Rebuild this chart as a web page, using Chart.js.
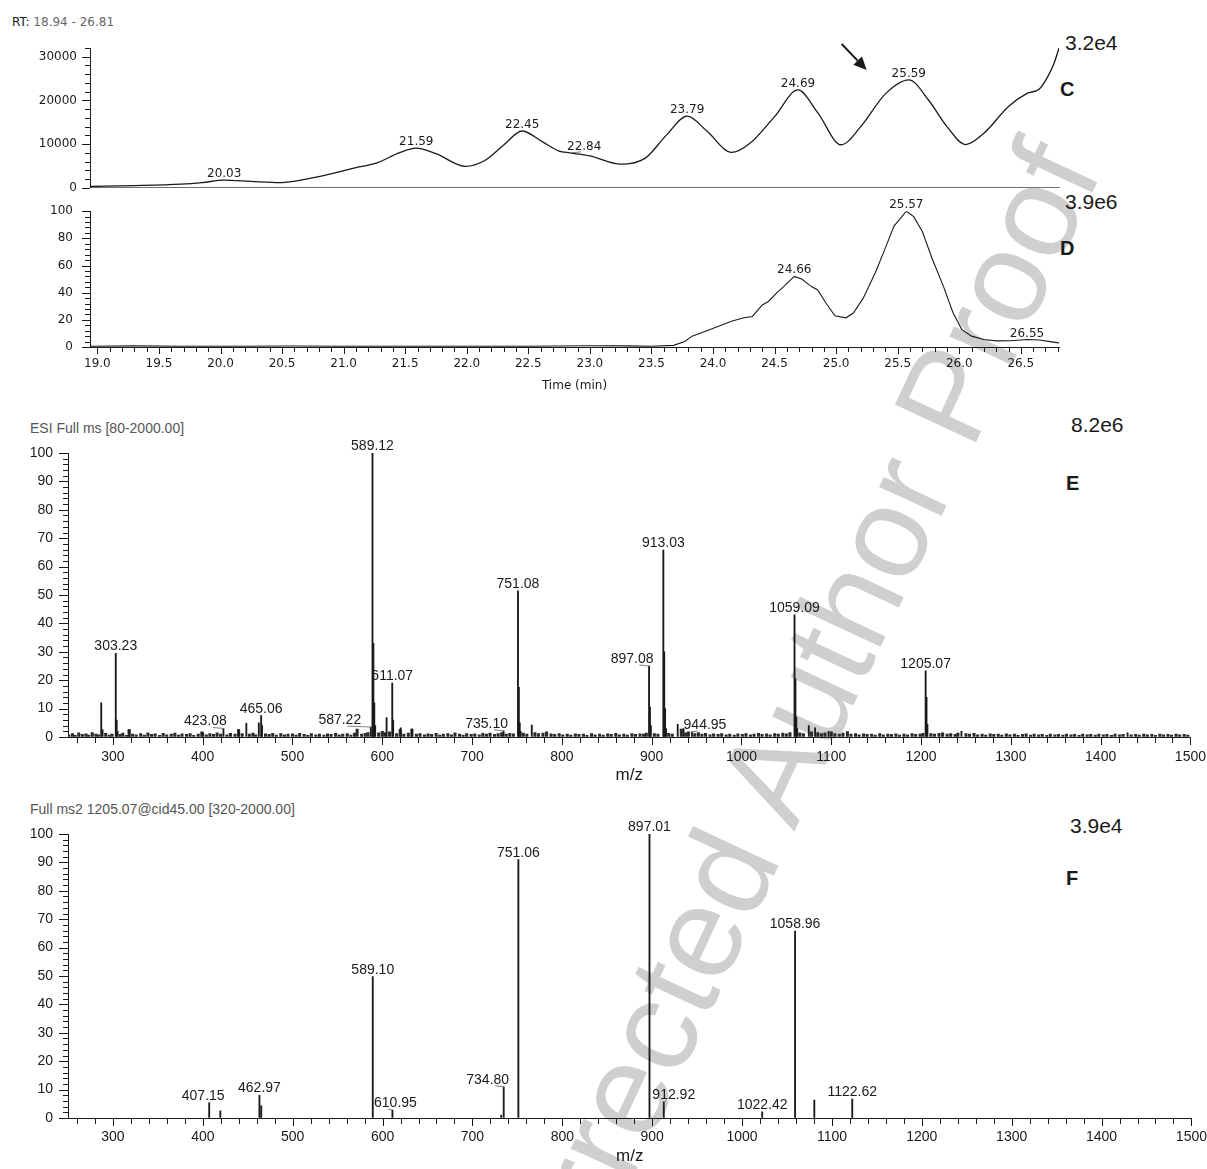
<!DOCTYPE html>
<html>
<head>
<meta charset="utf-8">
<script src="https://cdn.jsdelivr.net/npm/chart.js@4.4.0/dist/chart.umd.min.js"></script>
<style>
  body { margin:0; width:1207px; height:1169px; overflow:hidden; background:#fff; position:relative; color:#1a1a1a; }
  canvas { position:absolute; left:0; }
  .txt { position:absolute; white-space:nowrap; line-height:1; font-family:"Liberation Sans", Arial, sans-serif; }
  .big { font-size:21px; }
  .tag { font-size:20px; font-weight:bold; }
  .hdr { font-size:14px; color:#555; }
  #wm { position:absolute; left:752px; top:816px; transform:translate(-50%,-50%) rotate(-65deg);
        font-family:"Liberation Sans", Arial, sans-serif; font-size:130px; line-height:1; color:#cfcfcf; white-space:nowrap; }
</style>
</head>
<body>
<div id="wm">Uncorrected Author Proof</div>

<div class="txt" style="left:12px;top:16px;font-family:'DejaVu Sans';font-size:12px"><span>RT:</span> <span style="color:#666">18.94 - 26.81</span></div>
<div class="txt big" style="left:1065px;top:32px">3.2e4</div>
<div class="txt tag" style="left:1060px;top:79px">C</div>
<div class="txt big" style="left:1065px;top:191px">3.9e6</div>
<div class="txt tag" style="left:1060px;top:238px">D</div>
<div class="txt hdr" style="left:30px;top:421px">ESI Full ms [80-2000.00]</div>
<div class="txt big" style="left:1071px;top:414px">8.2e6</div>
<div class="txt tag" style="left:1066px;top:473px">E</div>
<div class="txt hdr" style="left:30px;top:802px">Full ms2 1205.07@cid45.00 [320-2000.00]</div>
<div class="txt big" style="left:1070px;top:815px">3.9e4</div>
<div class="txt tag" style="left:1066px;top:868px">F</div>

<canvas id="chartC" width="1207" height="200" style="top:0px"></canvas>
<canvas id="chartD" width="1207" height="200" style="top:195px"></canvas>
<canvas id="chartE" width="1210" height="370" style="top:420px"></canvas>
<canvas id="chartF" width="1210" height="369" style="top:800px"></canvas>

<script>
// ---- data ----
// C: TIC trace (intensity counts)
const timeC = [18.94, 19.3, 19.68, 19.85, 20.03, 20.25, 20.49, 20.7, 20.92, 21.1,
  21.27, 21.45, 21.59, 21.75, 21.99, 22.15, 22.3, 22.45, 22.6, 22.75,
  22.84, 23.0, 23.25, 23.45, 23.62, 23.79, 23.95, 24.15, 24.3, 24.5,
  24.69, 24.85, 25.04, 25.2, 25.4, 25.59, 25.75, 25.9, 26.05, 26.2,
  26.4, 26.55, 26.65, 26.72, 26.77, 26.81];
const intC = [300, 500, 850, 1200, 1750, 1450, 1200, 2000, 3350, 4600,
  5700, 8000, 9070, 7800, 4900, 6300, 9800, 13000, 10800, 8400,
  8000, 7300, 5400, 6800, 12000, 16400, 13000, 8100, 10200, 16300,
  22400, 17200, 9850, 14000, 21500, 24700, 20100, 14000, 9900, 12500,
  18600, 21600, 22600, 25500, 28500, 32000];
const peakLabelsC = ['20.03', '21.59', '22.45', '22.84', '23.79', '24.69', '25.59'];

// D: extracted ion trace (relative abundance)
const timeD = [18.94, 19.3, 19.7, 20.1, 20.6, 21.0, 21.5, 22.0, 22.5, 23.0,
  23.3, 23.5, 23.68, 23.77, 23.83, 23.95, 24.05, 24.15, 24.25, 24.32,
  24.4, 24.45, 24.52, 24.58, 24.66, 24.72, 24.8, 24.85, 24.92, 24.99,
  25.08, 25.14, 25.22, 25.32, 25.4, 25.47, 25.57, 25.63, 25.7, 25.78,
  25.87, 25.95, 26.02, 26.1, 26.2, 26.3, 26.42, 26.55, 26.65, 26.75, 26.81];
const relD = [0.6, 0.8, 0.6, 0.5, 0.7, 0.5, 0.6, 0.5, 0.6, 0.9,
  0.8, 0.6, 1.2, 4, 8, 12, 15.5, 19, 21.5, 22.5,
  31, 33.5, 40, 45, 52, 50, 44.5, 42, 32, 23,
  21.5, 25, 36, 55, 73, 89, 100, 96, 85, 65,
  45, 25, 13, 8, 5.5, 4.5, 4.6, 5.5, 5.2, 3.8, 3];
const peakLabelsD = ['24.66', '25.57', '26.55'];

// E: full MS spectrum
const mzE = [287.0, 288.5, 303.2, 304.2, 305.2, 318.5, 400.5, 423.1, 440.0, 448.6,
  462.5, 465.1, 466.1, 587.2, 589.1, 590.1, 591.1, 592.1, 604.8, 611.1,
  612.1, 620.5, 633.0, 735.1, 751.1, 752.1, 753.1, 754.1, 766.5, 897.1,
  898.1, 899.1, 913.0, 914.0, 915.0, 916.0, 929.0, 935.5, 944.9, 1059.1,
  1060.1, 1061.1, 1062.1, 1075.0, 1082.0, 1097.0, 1205.1, 1206.1, 1207.1, 1245.0, 1430.0];
const relE = [12, 2.5, 29.5, 6, 2, 2.6, 1.6, 3, 2.6, 4.8,
  5, 7.5, 4, 3.5, 100, 33, 12, 4, 6.8, 19,
  6, 3.2, 2.8, 2.2, 51.5, 17.5, 5, 2, 4.2, 25,
  10.5, 4, 65.8, 30, 10, 3, 4.5, 3, 1.8, 43,
  20.5, 7, 3, 4, 3.2, 2, 23.3, 14, 4.5, 2, 1.5];
const peakLabelsE = ['303.23', '423.08', '465.06', '587.22', '589.12', '611.07', '735.10',
  '751.08', '897.08', '913.03', '944.95', '1059.09', '1205.07'];
// baseline grass of spectrum E, [m/z, rel. abundance]
const noiseE = [[251,0.8],[255,1.2],[258,0.6],[262,1.5],[266,0.9],[270,1.1],[273,0.7],[277,1.6],[281,1.0],[284,0.8],
  [292,1.3],[296,0.7],[299,1.0],[308,0.9],[311,1.4],[315,0.6],[318,2.6],[322,1.0],[326,0.8],[331,1.2],
  [335,0.7],[339,1.5],[343,0.9],[347,1.1],[352,0.6],[356,1.3],[360,0.8],[365,1.0],[369,1.4],[373,0.7],
  [377,1.1],[382,0.9],[386,1.2],[390,0.6],[395,1.0],[399,1.8],[404,0.8],[408,1.2],[412,0.9],[416,1.5],
  [420,1.0],[427,0.8],[431,1.3],[436,1.0],[440,2.6],[444,1.2],[452,1.0],[456,1.4],[459,0.8],[470,1.1],
  [474,0.9],[478,1.3],[482,0.7],[487,1.2],[491,0.8],[495,1.0],[500,1.1],[504,0.7],[508,1.3],[513,0.9],
  [517,0.6],[521,1.2],[526,0.8],[530,1.0],[535,0.7],[539,1.1],[543,0.9],[548,1.3],[552,0.8],[556,1.0],
  [561,1.2],[565,0.7],[569,1.4],[572,2.8],[577,1.0],[581,1.3],[584,1.6],[596,1.5],[600,2.0],[603,1.6],
  [608,1.8],[616,1.2],[620,2.7],[624,1.0],[629,1.4],[633,2.8],[638,1.0],[642,1.2],[647,0.8],[651,1.1],
  [655,0.9],[660,1.3],[664,0.7],[668,1.0],[673,1.2],[677,0.8],[681,1.5],[686,1.0],[690,0.7],[694,1.2],
  [699,0.9],[703,1.1],[708,0.8],[712,1.3],[716,1.0],[720,1.4],[725,0.9],[729,1.2],[733,1.6],[738,1.0],
  [742,1.3],[746,1.1],[757,1.4],[761,1.0],[770,1.6],[774,1.2],[779,1.4],[783,1.8],[788,1.1],[792,0.9],
  [797,1.2],[801,0.8],[806,1.0],[810,0.7],[815,1.1],[819,0.9],[824,1.0],[828,0.6],[833,1.2],[837,0.8],
  [842,1.0],[846,0.7],[851,1.1],[855,0.9],[860,1.3],[864,0.8],[869,1.0],[873,0.7],[878,1.2],[882,0.9],
  [887,1.1],[891,1.0],[894,1.4],[903,1.2],[907,1.0],[919,1.3],[923,1.0],[933,2.8],[938,1.5],[941,1.8],
  [948,1.2],[952,1.6],[956,1.0],[960,1.3],[965,0.8],[969,1.1],[974,0.9],[978,1.2],[983,0.8],[987,1.0],
  [992,0.7],[996,1.1],[1001,0.9],[1005,1.2],[1010,0.8],[1014,1.0],[1019,1.3],[1023,0.9],[1028,1.1],[1032,0.8],
  [1037,1.2],[1041,1.0],[1046,1.4],[1050,1.1],[1054,1.6],[1065,1.5],[1069,1.2],[1078,1.8],[1085,1.6],[1089,1.2],
  [1093,1.5],[1100,1.8],[1104,1.2],[1109,1.0],[1113,1.4],[1118,1.9],[1122,1.0],[1127,1.2],[1131,0.8],[1136,1.1],
  [1140,0.9],[1145,1.0],[1149,0.7],[1154,1.2],[1158,0.8],[1163,1.0],[1167,0.9],[1172,1.1],[1176,0.7],[1181,1.0],
  [1185,0.8],[1190,1.2],[1194,0.9],[1199,1.0],[1202,1.3],[1211,1.2],[1215,1.0],[1220,1.3],[1224,1.5],[1229,1.0],
  [1233,1.2],[1238,0.9],[1241,1.4],[1250,1.2],[1254,1.0],[1259,1.3],[1263,0.8],[1268,1.0],[1272,0.7],[1277,1.1],
  [1281,0.9],[1286,1.0],[1290,0.7],[1295,1.1],[1299,0.8],[1304,1.0],[1308,0.6],[1313,0.9],[1317,1.1],[1322,0.7],
  [1326,1.0],[1331,0.8],[1335,0.9],[1340,0.6],[1344,1.0],[1349,0.8],[1353,0.9],[1358,0.7],[1362,1.0],[1367,0.8],
  [1371,0.9],[1376,0.6],[1380,1.0],[1385,0.8],[1389,0.9],[1394,0.7],[1398,1.0],[1403,0.8],[1407,0.9],[1412,0.6],
  [1416,1.0],[1421,0.8],[1425,0.9],[1434,0.8],[1439,0.9],[1443,0.7],[1448,1.0],[1452,0.8],[1457,0.9],[1461,0.6],
  [1466,1.0],[1470,0.8],[1475,0.9],[1479,0.7],[1484,1.0],[1488,0.8],[1493,0.9],[1497,0.7]];

// F: MS2 of 1205.07
const mzF = [407.1, 419.5, 463.0, 465.0, 589.1, 611.0, 732.0, 734.8, 751.1, 897.0,
  912.9, 1022.4, 1059.0, 1080.4, 1122.6];
const relF = [5.3, 2.5, 8, 4.3, 49.8, 2.8, 1, 11, 91, 100,
  5.7, 2.2, 65.8, 6.3, 6.7];
const peakLabelsF = ['407.15', '462.97', '589.10', '610.95', '734.80', '751.06', '897.01',
  '912.92', '1022.42', '1058.96', '1122.62'];

// ---- styling ----
const INK = '#1a1a1a';
const SANS = '"Liberation Sans", Arial, sans-serif';
const DEJA = '"DejaVu Sans", sans-serif';
const labelShiftC = { '22.84': 14 };
const labelShiftE = { '423.08': -18, '587.22': -31, '735.10': -17, '897.08': -17, '944.95': 13 };
const labelShiftF = { '407.15': -6, '610.95': 3, '734.80': -16, '912.92': 10 };

function isMajor(v, step) {
  return Math.abs(v / step - Math.round(v / step)) < 1e-6;
}

function stepTicks(min, max, step) {
  const out = [];
  for (let k = Math.ceil(min / step - 1e-9); k <= Math.floor(max / step + 1e-9); k++) {
    out.push({ value: +(k * step).toFixed(6) });
  }
  return out;
}

function axis(o) {
  return {
    type: 'linear',
    min: o.min, max: o.max,
    offset: false,
    afterFit: s => { if (s.isHorizontal()) s.height = o.size; else s.width = o.size; },
    afterBuildTicks: s => { s.ticks = stepTicks(o.min, o.max, o.step); },
    ticks: {
      display: o.labels !== false,
      autoSkip: false, maxRotation: 0, padding: o.pad || 3,
      font: { family: o.family, size: o.fontSize }, color: INK,
      callback: v => isMajor(v, o.major) ? o.fmt(v) : ''
    },
    grid: { display: o.labels !== false, drawOnChartArea: false, drawTicks: true, tickLength: o.long || 8, tickColor: 'transparent' },
    border: { display: true, color: o.line || INK, width: 1 },
    title: o.title ? { display: true, text: o.title, color: INK, font: { family: o.titleFamily || o.family, size: o.titleSize }, padding: { top: 0, bottom: o.titlePad } } : { display: false }
  };
}

// major/minor tick marks (minor ones shorter than Chart.js can do on its own)
const tickMarks = {
  id: 'tickMarks',
  afterDraw(chart, args, opts) {
    const ctx = chart.ctx, area = chart.chartArea;
    ctx.save();
    ctx.strokeStyle = INK;
    ctx.lineWidth = 1;
    Object.keys(opts).forEach(id => {
      const s = chart.scales[id], m = opts[id];
      if (!s || !m.major) return;
      s.ticks.forEach(t => {
        const len = isMajor(t.value, m.major) ? m.long : m.short;
        const p = Math.round(s.getPixelForValue(t.value)) + 0.5;
        ctx.beginPath();
        if (s.isHorizontal()) {
          ctx.moveTo(p, area.bottom); ctx.lineTo(p, area.bottom + len);
        } else {
          ctx.moveTo(area.left, p); ctx.lineTo(area.left - len, p);
        }
        ctx.stroke();
      });
    });
    ctx.restore();
  }
};

// peak annotations: text is the m/z or time, placed over the nearest point
const peakLabels = {
  id: 'peakLabels',
  afterDatasetsDraw(chart, args, opts) {
    if (!opts.labels) return;
    const ctx = chart.ctx, xs = chart.scales.x, ys = chart.scales.y;
    const pts = chart.data.datasets[0].data;
    ctx.save();
    ctx.font = opts.font;
    ctx.fillStyle = INK;
    ctx.textAlign = 'center';
    ctx.textBaseline = 'alphabetic';
    opts.labels.forEach(txt => {
      const v = parseFloat(txt);
      let best = pts[0];
      pts.forEach(p => { if (Math.abs(p.x - v) < Math.abs(best.x - v)) best = p; });
      const px = xs.getPixelForValue(best.x), py = ys.getPixelForValue(best.y);
      const shift = (opts.shift && opts.shift[txt]) || 0;
      const lx = px + shift, by = py - opts.gap;
      ctx.fillText(txt, lx, by);
      if (shift) {
        const w = ctx.measureText(txt).width;
        const sx = lx + (shift < 0 ? 1 : -1) * (w / 2 - 14);
        ctx.strokeStyle = '#808080';
        ctx.lineWidth = 1;
        ctx.beginPath();
        ctx.moveTo(sx, by + 2);
        ctx.lineTo(px, py);
        ctx.stroke();
      }
    });
    ctx.restore();
  }
};

const arrowMark = {
  id: 'arrowMark',
  afterDraw(chart, args, o) {
    if (!o.from) return;
    const xs = chart.scales.x, ys = chart.scales.y, ctx = chart.ctx;
    const x0 = xs.getPixelForValue(o.from[0]), y0 = ys.getPixelForValue(o.from[1]);
    const x1 = xs.getPixelForValue(o.to[0]), y1 = ys.getPixelForValue(o.to[1]);
    const a = Math.atan2(y1 - y0, x1 - x0), head = 13, half = 6;
    const bx = x1 - head * Math.cos(a), by = y1 - head * Math.sin(a);
    ctx.save();
    ctx.strokeStyle = INK; ctx.fillStyle = INK; ctx.lineWidth = 2;
    ctx.beginPath(); ctx.moveTo(x0, y0); ctx.lineTo(bx, by); ctx.stroke();
    ctx.beginPath();
    ctx.moveTo(x1, y1);
    ctx.lineTo(bx + half * Math.sin(a), by - half * Math.cos(a));
    ctx.lineTo(bx - half * Math.sin(a), by + half * Math.cos(a));
    ctx.closePath(); ctx.fill();
    ctx.restore();
  }
};

Chart.defaults.animation = false;
Chart.defaults.font.family = SANS;
Chart.defaults.plugins.legend.display = false;
Chart.defaults.plugins.tooltip.enabled = false;

// ---- C: chromatogram ----
const chartC = new Chart(document.getElementById('chartC'), {
  type: 'line',
  data: {
    datasets: [{
      data: timeC.map((t, i) => ({ x: t, y: intC[i] })),
      borderColor: INK, borderWidth: 1.3, pointRadius: 0,
      cubicInterpolationMode: 'monotone', fill: false
    }]
  },
  options: {
    responsive: false,
    layout: { padding: { left: 0, right: 148, top: 48, bottom: 0 } },
    scales: {
      x: axis({ min: 18.94, max: 26.81, step: 0.1, major: 0.5, fmt: v => v.toFixed(1), size: 12, labels: false, line: '#707070' }),
      y: axis({ min: 0, max: 32000, step: 2000, major: 10000, fmt: v => String(v), size: 90, family: DEJA, fontSize: 12, pad: 5, long: 8 })
    },
    plugins: {
      tickMarks: { y: { major: 10000, long: 8, short: 5 } },
      peakLabels: { labels: peakLabelsC, font: '12px ' + DEJA, gap: 3, shift: labelShiftC },
      arrowMark: { from: [25.045, 32900], to: [25.248, 26970] }
    }
  },
  plugins: [tickMarks, peakLabels, arrowMark]
});

// ---- D: chromatogram (relative abundance) ----
const chartD = new Chart(document.getElementById('chartD'), {
  type: 'line',
  data: {
    datasets: [{
      data: timeD.map((t, i) => ({ x: t, y: relD[i] })),
      borderColor: INK, borderWidth: 1.1, pointRadius: 0, tension: 0, fill: false
    }]
  },
  options: {
    responsive: false,
    layout: { padding: { left: 0, right: 148, top: 11, bottom: 0 } },
    scales: {
      x: axis({ min: 18.94, max: 26.81, step: 0.1, major: 0.5, fmt: v => v.toFixed(1), size: 48,
                family: DEJA, fontSize: 12, pad: 3, long: 7, title: 'Time (min)', titleSize: 12, titlePad: 2 }),
      y: axis({ min: 0, max: 100, step: 4, major: 20, fmt: v => String(v), size: 90, family: DEJA, fontSize: 12, pad: 9, long: 8 })
    },
    plugins: {
      tickMarks: { x: { major: 0.5, long: 7, short: 5 }, y: { major: 20, long: 8, short: 5 } },
      peakLabels: { labels: peakLabelsD, font: '12px ' + DEJA, gap: 3 }
    }
  },
  plugins: [tickMarks, peakLabels]
});

// ---- E: full MS ----
const chartE = new Chart(document.getElementById('chartE'), {
  type: 'bar',
  data: {
    datasets: [{
      data: mzE.map((m, i) => ({ x: m, y: relE[i] })),
      backgroundColor: INK, barThickness: 1.2, grouped: false, order: 1
    }, {
      data: noiseE.map(p => ({ x: p[0], y: p[1] })),
      backgroundColor: '#2a2a2a', barThickness: 2.4, grouped: false, order: 2
    }]
  },
  options: {
    responsive: false,
    layout: { padding: { left: 0, right: 17, top: 33, bottom: 0 } },
    scales: {
      x: axis({ min: 250, max: 1500, step: 20, major: 100, fmt: v => String(v), size: 53,
                family: SANS, fontSize: 14, pad: 4, long: 8, title: 'm/z', titleSize: 17, titlePad: 4 }),
      y: axis({ min: 0, max: 100, step: 2, major: 10, fmt: v => String(v), size: 68, family: SANS, fontSize: 14, pad: 6, long: 9 })
    },
    plugins: {
      tickMarks: { x: { major: 100, long: 8, short: 6 }, y: { major: 10, long: 9, short: 5 } },
      peakLabels: { labels: peakLabelsE, font: '14px ' + SANS, gap: 3, shift: labelShiftE }
    }
  },
  plugins: [tickMarks, peakLabels]
});

// ---- F: MS2 ----
const chartF = new Chart(document.getElementById('chartF'), {
  type: 'bar',
  data: {
    datasets: [{
      data: mzF.map((m, i) => ({ x: m, y: relF[i] })),
      backgroundColor: INK, barThickness: 1.2
    }]
  },
  options: {
    responsive: false,
    layout: { padding: { left: 0, right: 17, top: 34, bottom: 0 } },
    scales: {
      x: axis({ min: 250, max: 1500, step: 20, major: 100, fmt: v => String(v), size: 51,
                family: SANS, fontSize: 14, pad: 3, long: 8, title: 'm/z', titleSize: 17, titlePad: 2 }),
      y: axis({ min: 0, max: 100, step: 2, major: 10, fmt: v => String(v), size: 68, family: SANS, fontSize: 14, pad: 6, long: 9 })
    },
    plugins: {
      tickMarks: { x: { major: 100, long: 8, short: 6 }, y: { major: 10, long: 9, short: 5 } },
      peakLabels: { labels: peakLabelsF, font: '14px ' + SANS, gap: 3, shift: labelShiftF }
    }
  },
  plugins: [tickMarks, peakLabels]
});
</script>
</body>
</html>
